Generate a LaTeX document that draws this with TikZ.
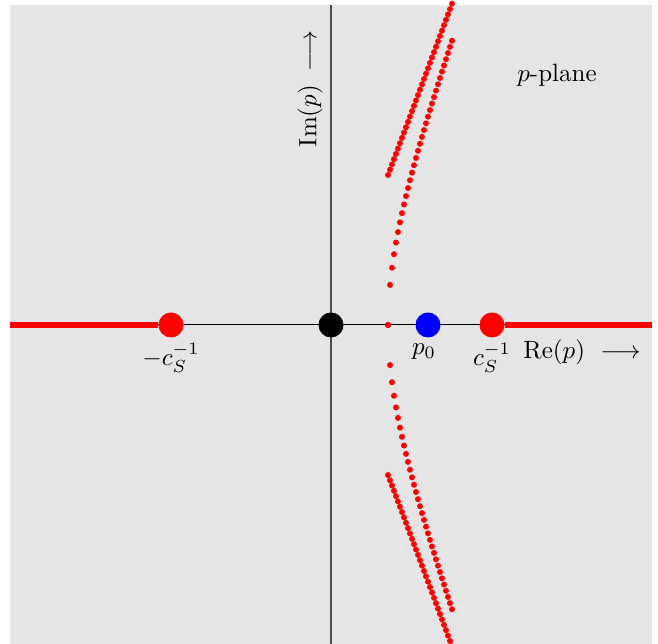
\documentclass[tikz,border=0pt]{standalone}
\usepackage{amsmath,amssymb}
\usepackage{xcolor}
\usepackage{tikz}
\usetikzlibrary{positioning}
\definecolor{planebg}{HTML}{E5E5E5}
\definecolor{axisgray}{HTML}{4D4D4D}

\begin{document}
\begin{tikzpicture}[x=0.4pt,y=0.4pt,font=\normalsize,
   bigdot/.style={circle,inner sep=0pt,minimum size=10pt},
   lbl/.style={inner sep=1pt},
   cut/.style={red,line width=2.4pt}]
  \useasboundingbox (-331,-319) rectangle (327,325);
  \fill[planebg] (-321,-319) rectangle (321,320);
  % axes
  \coordinate (xl) at (-321,0);
  \coordinate (xr) at (321,0);
  \coordinate (yb) at (0,-319);
  \coordinate (yt) at (0,320);
  \draw[axisgray,line width=0.5pt] (yb) -- (yt);
  \draw[black,line width=0.4pt] (xl) -- (xr);
  % branch points and saddle point
  \node[bigdot,fill=black] (orig) at (0,0) {};
  \node[bigdot,fill=blue] (pzero) at (97,0) {};
  \node[bigdot,fill=red] (cs) at (161,0) {};
  \node[bigdot,fill=red] (mcs) at (-160,0) {};
  \draw[cut] (xl) -- (mcs);
  \draw[cut] (cs) -- (xr);
  % Cagniard paths (two branches, mirrored)
  \foreach \k in {0,...,32}{
    \pgfmathsetmacro{\xx}{57+2*\k}
    \pgfmathsetmacro{\hs}{10*sqrt(15.8*\k+0.295*\k*\k)}
    \pgfmathsetmacro{\hd}{10*sqrt(225+15.8*\k+0.295*\k*\k)}
    \fill[red] (\xx,\hs) circle (3);
    \fill[red] (\xx,-\hs) circle (3);
    \fill[red] (\xx,\hd) circle (3);
    \fill[red] (\xx,-\hd) circle (3);
  }
  % labels
  \node[lbl,below=1pt of mcs] {$-c_S^{-1}$};
  \node[lbl,below=1pt of pzero,xshift=-1.6pt] {$p_0$};
  \node[lbl,below=1pt of cs] {$c_S^{-1}$};
  \node[lbl] (relbl) at (251,-27) {$\mathrm{Re}(p)\ \longrightarrow$};
  \node[lbl,rotate=90] (imlbl) at (-21,236) {$\mathrm{Im}(p)\;\longrightarrow$};
  \node[lbl] (plane) at (226,250) {$p$-plane};
\end{tikzpicture}
\end{document}
